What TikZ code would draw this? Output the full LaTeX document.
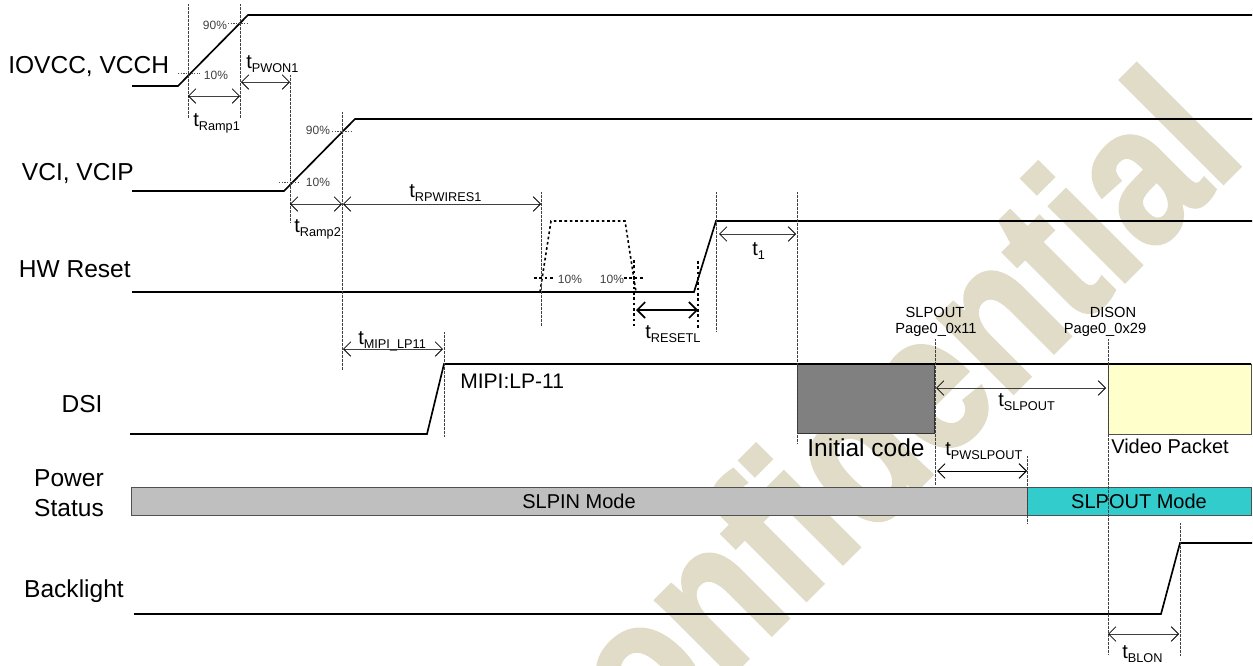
\documentclass[tikz,border=0pt]{standalone}
\usepackage{fontspec}
\setmainfont{Liberation Sans}
\newfontfamily\wmfont[FakeBold=2]{Liberation Sans Bold}
\usetikzlibrary{arrows.meta}
\definecolor{wm}{HTML}{E0DCC8}
\definecolor{edge}{HTML}{505050}
\definecolor{teal}{HTML}{33CCCC}
\definecolor{pale}{HTML}{FFFFCC}
\newcommand{\fsz}[1]{\fontsize{#1pt}{#1pt}\selectfont}
\newcommand{\tsb}[1]{{\fsz{15}t}\raisebox{-3pt}{\fsz{9.55}#1}}
\tikzset{
  sig/.style={line width=1.25pt,black,line join=miter},
  guide/.style={line width=.5pt,black!75,dash pattern=on .5pt off .5pt},
  dashguide/.style={line width=.9pt,black,dash pattern=on 2pt off 2pt},
  tick/.style={line width=.5pt,black!70,dash pattern=on 1pt off 1pt},
  dim/.style={line width=.6pt,black!75,{Straight Barb[length=5.5pt,width=11pt,black]}-{Straight Barb[length=5.5pt,width=11pt,black]}},
  dimk/.style={line width=.75pt,black,{Straight Barb[length=5.5pt,width=11pt]}-{Straight Barb[length=5.5pt,width=11pt]}},
  dimt/.style={line width=1.2pt,black,{Straight Barb[length=6pt,width=12pt]}-{Straight Barb[length=6pt,width=12pt]}},
  tl/.style={inner sep=0pt,anchor=base west},
  big/.style={inner sep=0pt,font=\fsz{18.4}},
  mid/.style={inner sep=0pt,font=\fsz{15}},
  pct/.style={inner sep=0pt,font=\fsz{9},text=black!75},
  small/.style={inner sep=0pt,font=\fsz{11},align=center},
  bar/.style={draw=edge,line width=.9pt}
}
\begin{document}
\begin{tikzpicture}[x=0.75pt,y=-0.75pt]
\useasboundingbox (0,0) rectangle (1253,665);
\begin{scope}
\clip (0,0) rectangle (1253,665);
\node[rotate=45,anchor=base east,inner sep=0pt,text=wm] (wmark) at (1248,158)
  {\scalebox{.835}[1]{\fsz{150}\wmfont Confidential}};
\end{scope}

% filled blocks
\node[draw=black!80,line width=.9pt,fill=black!50,minimum width=102.75pt,minimum height=51.75pt,inner sep=0pt,anchor=north west] (init) at (797,364) {};
\node[draw=edge,line width=.8pt,fill=pale,minimum width=107.25pt,minimum height=52.5pt,inner sep=0pt,anchor=north west] (video) at (1108,364) {};
\node[bar,fill=black!25,minimum width=672pt,minimum height=21pt,inner sep=0pt,anchor=north west] (slpin) at (131,487) {};
\node[bar,fill=teal,minimum width=168pt,minimum height=21pt,inner sep=0pt,anchor=north west] (slpout) at (1027,487) {};
\node[mid] (slpintxt) at (579,501) {SLPIN Mode};
\node[mid] (slpouttxt) at (1139,501) {SLPOUT Mode};

% signals
\draw[sig] (132,86) -- (178,86) -- (248,15) -- (1252,15);
\draw[sig] (132,191) -- (284,191) -- (355,119) -- (1252,119);
\draw[sig] (132,292) -- (694,292) -- (716,221) -- (1252,221);
\draw[dashguide,line width=1.2pt] (540,292) -- (551,221) -- (625,221) -- (636,292);
\draw[sig] (130,434) -- (427,434) -- (444,364) -- (1251,364);
\draw[sig] (134,614) -- (1161,614) -- (1180,543) -- (1252,543);

% vertical guides
\foreach \x/\a/\b in {188/4/118, 240/4/118, 290/75/222, 342/112/370, 541/192/326, 716/192/332,
  797/192/444, 444/332/437, 935/339/485, 1108/339/655, 1027/456/523, 1180/523/656}
  \draw[guide] (\x,\a) -- (\x,\b);
\draw[dashguide] (634,260) -- (634,326);
\draw[dashguide] (698,261) -- (698,329);

% percent ticks
\draw[tick] (178,73) -- (200,73);
\draw[tick] (228,23) -- (248,23);
\draw[tick] (279,182) -- (300,182);
\draw[tick] (332,131) -- (352,131);
\draw[dashguide] (534,278) -- (553,278);
\draw[dashguide] (624,278) -- (643,278);
\node[pct] (p90a) at (215,25) {90\%};
\node[pct] (p10a) at (216,75) {10\%};
\node[pct] (p90b) at (318,130) {90\%};
\node[pct] (p10b) at (318,182) {10\%};
\node[pct] (p10c) at (570,279) {10\%};
\node[pct] (p10d) at (612,279) {10\%};

% dimension arrows
\coordinate (a1) at (188,96); \coordinate (a2) at (240,96);
\coordinate (b1) at (241,82); \coordinate (b2) at (290,82);
\coordinate (c1) at (290,204); \coordinate (c2) at (342,204);
\coordinate (d1) at (343,204); \coordinate (d2) at (541,204);
\coordinate (e1) at (636,310); \coordinate (e2) at (698,310);
\coordinate (f1) at (719,234); \coordinate (f2) at (796,234);
\coordinate (g1) at (343,349); \coordinate (g2) at (443,349);
\coordinate (h1) at (936,388); \coordinate (h2) at (1106,388);
\coordinate (i1) at (937,471); \coordinate (i2) at (1027,471);
\coordinate (j1) at (1108,634); \coordinate (j2) at (1179,634);
\draw[dim] (a1) -- (a2);
\draw[dim] (b1) -- (b2);
\draw[dim] (c1) -- (c2);
\draw[dim] (d1) -- (d2);
\draw[dimt] (e1) -- (e2);
\draw[dim] (f1) -- (f2);
\draw[dim] (g1) -- (g2);
\draw[dim] (h1) -- (h2);
\draw[dimk] (i1) -- (i2);
\draw[dim] (j1) -- (j2);

% timing labels
\node[tl] (tr1) at (193,126) {\tsb{Ramp1}};
\node[tl] (tpw) at (246,68) {\tsb{PWON1}};
\node[tl] (tr2) at (294,232) {\tsb{Ramp2}};
\node[tl] (trp) at (409,197) {\tsb{RPWIRES1}};
\node[tl] (trs) at (645,338) {\tsb{RESETL}};
\node[tl] (tt1) at (752,255) {\tsb{1}};
\node[tl] (tmp) at (358,344) {\tsb{MIPI\_LP11}};
\node[tl] (tsl) at (998,406) {\tsb{SLPOUT}};
\node[tl] (tps) at (945,455) {\tsb{PWSLPOUT}};
\node[tl] (tbl) at (1122,658) {\tsb{BLON}};

% row labels
\node[big,anchor=base west] (l1) at (8,73) {IOVCC, VCCH};
\node[big,anchor=base east] (l2) at (134,180) {VCI, VCIP};
\node[big,anchor=base east] (l3) at (131,277) {HW Reset};
\node[big,anchor=base] (l4) at (82,412) {DSI};
\node[big,anchor=base] (l5) at (69,486) {Power};
\node[big,anchor=base] (l6) at (69,516) {Status};
\node[big,anchor=base] (l7) at (74,597) {Backlight};
\node[big,font=\fsz{15.8},anchor=base west] (m1) at (460,388) {MIPI:LP-11};
\node[big,anchor=base] (m2) at (866,456) {Initial code};
\node[mid,anchor=base west] (m3) at (1111,453) {Video Packet};
\node[small] (c1t) at (935,312) {SLPOUT};
\node[small] (c2t) at (936,330) {Page0\_0x11};
\node[small] (c3t) at (1113,312) {DISON};
\node[small] (c4t) at (1105,330) {Page0\_0x29};
\end{tikzpicture}
\end{document}
